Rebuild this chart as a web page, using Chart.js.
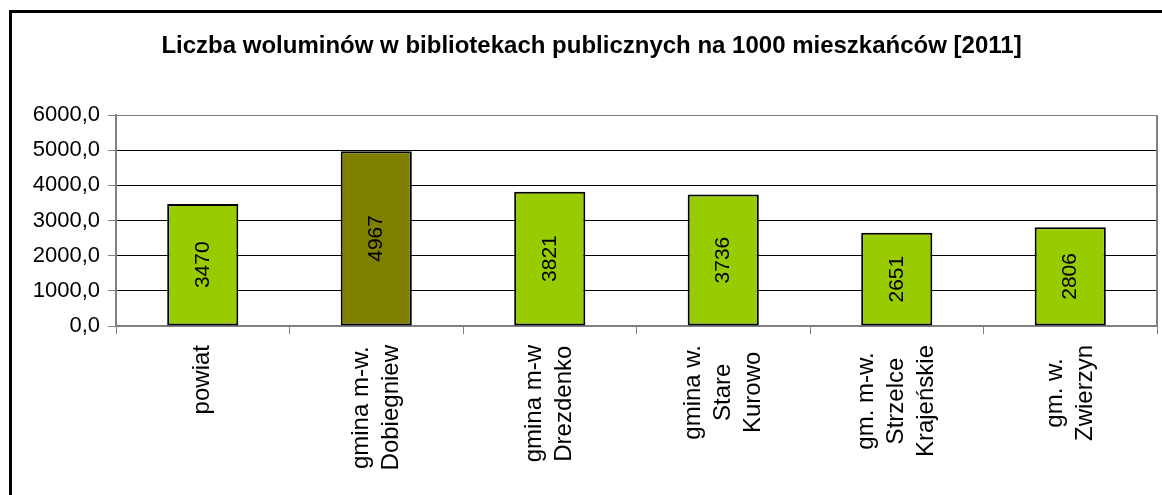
<!DOCTYPE html>
<html>
<head>
<meta charset="utf-8">
<script src="https://cdn.jsdelivr.net/npm/chart.js@4"></script>
<style>
body { margin: 0; background: #fff; overflow: hidden; }
#ramka { position: absolute; left: 9px; top: 10px; width: 1200px; height: 600px; border: 3px solid #000; }
#wykres { position: absolute; left: 0; top: 0; width: 1162px; height: 495px; }
</style>
</head>
<body>
<div id="ramka"></div>
<div id="wykres"><canvas id="myChart"></canvas></div>
<script>
const tytul = 'Liczba woluminów w bibliotekach publicznych na 1000 mieszkańców [2011]';
const kategorie = [
    ['powiat'],
    ['gmina m-w.', 'Dobiegniew'],
    ['gmina m-w', 'Drezdenko'],
    ['gmina w.', 'Stare', 'Kurowo'],
    ['gm. m-w.', 'Strzelce', 'Krajeńskie'],
    ['gm. w.', 'Zwierzyn']
];
const wartosci = [3470, 4967, 3821, 3736, 2651, 2806];
const kolory = ['#99CC00', '#808000', '#99CC00', '#99CC00', '#99CC00', '#99CC00'];
const ticki_y = [0, 1000, 2000, 3000, 4000, 5000, 6000];

const czcionka = '"Liberation Sans", Arial, sans-serif';

// napisy na slupkach i nazwy kategorii (wysrodkowane linie)
const napisy = {
    id: 'napisy',
    afterDraw(chart) {
        const ctx = chart.ctx;
        const meta = chart.getDatasetMeta(0);
        ctx.save();
        ctx.fillStyle = '#000';
        ctx.textAlign = 'center';
        ctx.textBaseline = 'middle';
        ctx.font = '21px ' + czcionka;
        meta.data.forEach((slupek, i) => {
            ctx.save();
            ctx.translate(slupek.x, (slupek.y + slupek.base) / 2);
            ctx.rotate(-Math.PI / 2);
            ctx.fillText(String(wartosci[i]), 0, 0);
            ctx.restore();
        });

        const osX = chart.scales.x;
        ctx.font = '24px ' + czcionka;
        const gora = osX.top + 19;
        const lh = 30;
        kategorie.forEach((linie, i) => {
            const szer = Math.max(...linie.map(l => ctx.measureText(l).width));
            const cx = osX.getPixelForValue(i);
            linie.forEach((l, j) => {
                ctx.save();
                ctx.translate(cx + (j - (linie.length - 1) / 2) * lh, gora + szer / 2);
                ctx.rotate(-Math.PI / 2);
                ctx.fillText(l, 0, 0);
                ctx.restore();
            });
        });

        // prawa krawedz obszaru wykresu
        const a = chart.chartArea;
        ctx.strokeStyle = '#808080';
        ctx.lineWidth = 2;
        ctx.beginPath();
        ctx.moveTo(a.right, a.top);
        ctx.lineTo(a.right, a.bottom);
        ctx.stroke();
        ctx.restore();
    }
};

const ctx = document.getElementById('myChart');

new Chart(ctx, {
    type: 'bar',
    data: {
        labels: kategorie,
        datasets: [{
            data: wartosci,
            backgroundColor: kolory,
            borderColor: '#000',
            borderWidth: 2,
            borderSkipped: false,
            barPercentage: 0.41,
            categoryPercentage: 1
        }]
    },
    plugins: [napisy],
    options: {
        responsive: true,
        maintainAspectRatio: false,
        animation: false,
        layout: { padding: { left: 26, right: 5, top: 0, bottom: 0 } },
        plugins: {
            legend: { display: false },
            tooltip: { enabled: false },
            title: {
                display: true,
                text: tytul,
                color: '#000',
                font: { family: czcionka, size: 24, weight: 'bold' },
                padding: { top: 31.6, bottom: 54.6 }
            }
        },
        scales: {
            x: {
                afterFit: s => { s.height = 169; },
                ticks: { display: false },
                grid: {
                    display: true,
                    drawOnChartArea: false,
                    drawTicks: true,
                    tickLength: 8,
                    color: '#808080',
                    offset: true
                },
                border: { display: true, color: '#808080', width: 2 }
            },
            y: {
                min: 0,
                max: 6000,
                afterFit: s => { s.width = 90; },
                afterBuildTicks: s => { s.ticks = ticki_y.map(v => ({ value: v })); },
                ticks: {
                    color: '#000',
                    padding: 8,
                    font: { family: czcionka, size: 22 },
                    callback: v => v.toFixed(1).replace('.', ',')
                },
                grid: {
                    color: c => (c.tick && (c.tick.value === 0 || c.tick.value === 6000)) ? '#808080' : '#000',
                    lineWidth: 1,
                    tickLength: 8,
                    tickColor: '#808080'
                },
                border: { display: true, color: '#808080', width: 2 }
            }
        }
    }
});
</script>
</body>
</html>
